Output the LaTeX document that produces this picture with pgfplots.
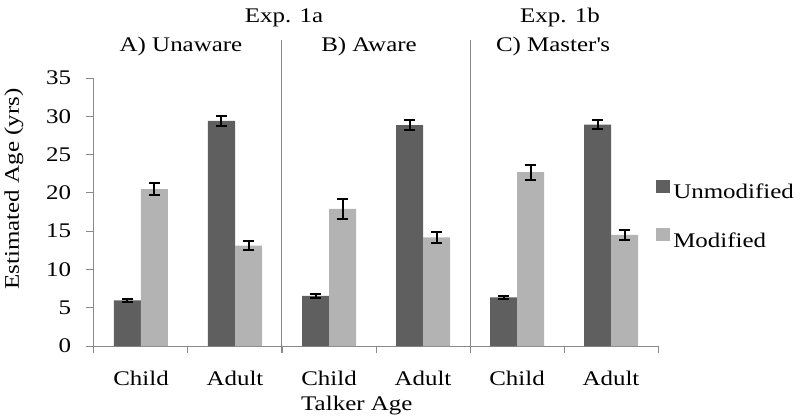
\documentclass[border=0pt]{standalone}
\usepackage{pgfplots}
\usepackage{pgfplotstable}
\pgfplotsset{compat=1.18}
\usepackage{fontspec}
\setmainfont{Liberation Serif}[FakeStretch=1.2]
\newcommand{\ff}{\fontsize{15.6bp}{18bp}\selectfont}
\definecolor{dark}{HTML}{5F5F5F}
\definecolor{light}{HTML}{B3B3B3}
\definecolor{axgray}{HTML}{898989}
\pgfplotstableread{
x u ue m me
0 5.95 0.15 20.5 0.8
1 29.4 0.65 13.1 0.55
2 6.55 0.25 17.9 1.25
3 28.85 0.65 14.2 0.7
4 6.35 0.2 22.7 1.0
5 28.9 0.6 14.5 0.6
}\data
\begin{document}
\ff
\begin{tikzpicture}[font=\ff]
\useasboundingbox (-70.5bp,-53.25bp) rectangle (529.5bp,259.5bp);
\begin{axis}[
  at={(0,0)}, anchor=south west,
  scale only axis, width=423bp, height=201bp,
  clip=false,
  ybar=0pt, bar width=20.25bp,
  xmin=-0.5, xmax=5.5, ymin=0, ymax=35,
  axis x line*=bottom, axis y line*=left,
  axis line style={axgray, line width=0.75bp},
  xtick={0,...,5}, xticklabels={Child,Adult,Child,Adult,Child,Adult},
  major x tick style={draw=none},
  minor xtick={-0.5,0.5,...,5.5},
  tick align=outside,
  major tick length=6bp, minor tick length=5.25bp,
  tick style={axgray, line width=0.75bp},
  minor x tick style={axgray, line width=0.75bp},
  ytick={0,5,...,35},
  /pgf/number format/assume math mode=true,
  tick label style={font=\ff},
  label style={font=\ff},
  xticklabel style={anchor=base, inner sep=0pt, yshift=-23.25bp},
  yticklabel style={anchor=east, inner sep=0pt, xshift=-11bp},
  ylabel={Estimated Age (yrs)},
  ylabel style={at={(axis description cs:-0.133,0.586)}, anchor=base, inner sep=0pt},
  xlabel={Talker Age},
  xlabel style={at={(axis description cs:0.466,-0.239)}, anchor=base, inner sep=0pt},
  legend style={at={(axis description cs:0.9965,0.621)}, anchor=north west,
    font=\ff,
    draw=none, fill=none, inner sep=0pt, row sep=19.9bp,
    nodes={inner sep=0pt, font=\ff},
    /tikz/every odd column/.append style={column sep=2.25bp}},
  legend cell align=left,
  legend image code/.code={\fill[#1] (0bp,0bp) rectangle (10.5bp,9.75bp);},
]
\addplot[fill=dark, draw=none,
  error bars/.cd, y dir=both, y explicit,
  error bar style={black, line width=1.5bp},
  error mark options={rotate=90, mark size=4bp, line width=1.5bp, black}]
  table[x=x, y=u, y error=ue] {\data};
\addlegendentry{Unmodified}
\addplot[fill=light, draw=none,
  error bars/.cd, y dir=both, y explicit,
  error bar style={black, line width=1.5bp},
  error mark options={rotate=90, mark size=4bp, line width=1.5bp, black}]
  table[x=x, y=m, y error=me] {\data};
\addlegendentry{Modified}
\draw[axgray, line width=0.75bp] (axis description cs:0.33333,1.142) -- (axis description cs:0.33333,-0.026);
\draw[axgray, line width=0.75bp] (axis description cs:0.66667,1.142) -- (axis description cs:0.66667,-0.026);
\end{axis}
\node[anchor=base, inner sep=0pt] at (142.5bp,242.25bp) {Exp. 1a};
\node[anchor=base, inner sep=0pt] at (65.25bp,220.5bp) {A) Unaware};
\node[anchor=base, inner sep=0pt] at (206.25bp,220.5bp) {B) Aware};
\node[anchor=base, inner sep=0pt] at (349.5bp,242.25bp) {Exp. 1b};
\node[anchor=base, inner sep=0pt] at (344.25bp,220.5bp) {C) Master\textquotesingle s};
\end{tikzpicture}
\end{document}
